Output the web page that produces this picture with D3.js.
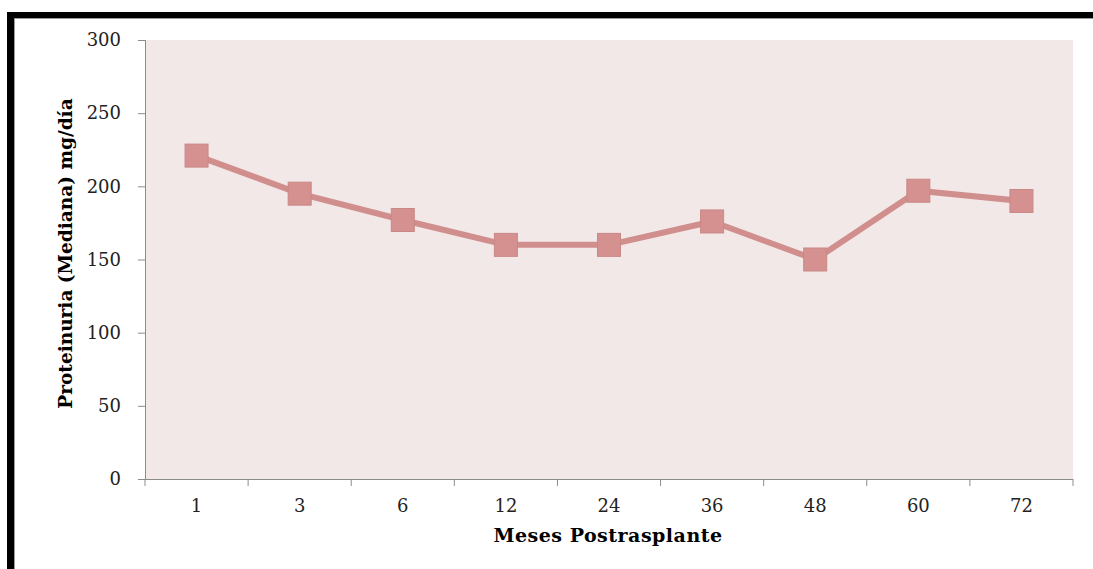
<!DOCTYPE html>
<html lang="es">
<head>
    <meta charset="UTF-8">
    <title>Proteinuria postrasplante</title>
    <script src="https://d3js.org/d3.v7.min.js"></script>
    <style>
        body { margin: 0; background: #fff; }
        svg { display: block; }
        .tick text { font-family: "DejaVu Serif", serif; font-size: 18px; fill: #222; }
        .axis path, .axis line { stroke: #8c8c8c; }
    </style>
</head>
<body>
<svg width="1093" height="569"></svg>
<script>
    // months after transplant and median proteinuria (mg/día)
    let months = ["1", "3", "6", "12", "24", "36", "48", "60", "72"];
    let values = [221, 195, 177, 160, 160, 176, 150, 197, 190];
    let yTicks = [0, 50, 100, 150, 200, 250, 300];

    let width = 1093, height = 569;
    let margin = { top: 40, right: 20, bottom: 90, left: 145 };
    let plotRight = 1073, plotBottom = 479;

    let svg = d3.select("svg");

    // frame (thick black top and left edges)
    svg.append("rect").attr("x", 7).attr("y", 12).attr("width", width - 7).attr("height", 6).attr("fill", "#000");
    svg.append("rect").attr("x", 7).attr("y", 12).attr("width", 7).attr("height", height - 12).attr("fill", "#000");
    svg.append("line").attr("x1", 14).attr("x2", width).attr("y1", 18.5).attr("y2", 18.5).attr("stroke", "#999");
    svg.append("line").attr("x1", 14.5).attr("x2", 14.5).attr("y1", 18).attr("y2", height).attr("stroke", "#999");

    let x = d3.scaleBand().domain(months).range([margin.left, plotRight]);
    let y = d3.scaleLinear().domain([0, 300]).range([plotBottom, margin.top]);

    // plot background
    svg.append("rect")
        .attr("x", margin.left).attr("y", margin.top)
        .attr("width", plotRight - margin.left).attr("height", plotBottom - margin.top)
        .attr("fill", "#f2e8e8");

    // y axis
    svg.append("g")
        .attr("class", "axis")
        .attr("transform", `translate(${margin.left},0)`)
        .call(d3.axisLeft(y).tickValues(yTicks).tickSize(7).tickPadding(17))
        .call(g => g.select(".domain").attr("d", `M0.5,${margin.top}V${plotBottom}`));

    // x axis, ticks on category boundaries
    let xAxis = svg.append("g")
        .attr("class", "axis")
        .attr("transform", `translate(0,${plotBottom})`)
        .call(d3.axisBottom(x).tickSize(0).tickPadding(20));
    xAxis.select(".domain").attr("d", `M${margin.left},0.5H${plotRight}`);
    xAxis.selectAll(".bound")
        .data(d3.range(months.length + 1))
        .join("line")
        .attr("x1", i => margin.left + i * x.step())
        .attr("x2", i => margin.left + i * x.step())
        .attr("y1", 0).attr("y2", 7)
        .attr("stroke", "#8c8c8c");

    // axis titles
    svg.append("text")
        .attr("x", (margin.left + plotRight) / 2 - 1)
        .attr("y", 542)
        .attr("text-anchor", "middle")
        .attr("font-family", "DejaVu Serif, serif")
        .attr("font-weight", "bold")
        .attr("font-size", 19)
        .attr("letter-spacing", 0.5)
        .text("Meses Postrasplante");

    svg.append("text")
        .attr("transform", `translate(72,${(margin.top + plotBottom) / 2 - 6}) rotate(-90)`)
        .attr("text-anchor", "middle")
        .attr("font-family", "DejaVu Serif, serif")
        .attr("font-weight", "bold")
        .attr("font-size", 18.5)
        .text("Proteinuria (Mediana) mg/día");

    // line
    let line = d3.line()
        .x((d, i) => x(months[i]) + x.bandwidth() / 2)
        .y(d => y(d));

    svg.append("path")
        .datum(values)
        .attr("d", line)
        .attr("fill", "none")
        .attr("stroke", "#d08f8d")
        .attr("stroke-width", 6)
        .attr("stroke-linejoin", "round");

    // square markers
    svg.selectAll(".mark")
        .data(values)
        .join("rect")
        .attr("class", "mark")
        .attr("x", (d, i) => x(months[i]) + x.bandwidth() / 2 - 11.5)
        .attr("y", d => y(d) - 11.5)
        .attr("width", 23)
        .attr("height", 23)
        .attr("fill", "#d4918f")
        .attr("stroke", "#c98886")
        .attr("stroke-width", 1);
</script>
</body>
</html>
